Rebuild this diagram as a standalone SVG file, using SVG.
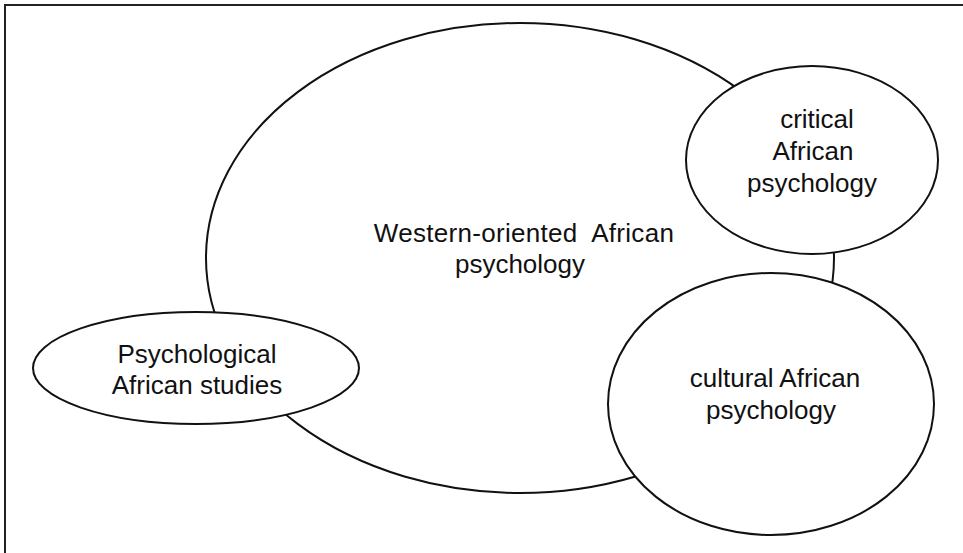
<svg xmlns="http://www.w3.org/2000/svg" width="963" height="553" viewBox="0 0 963 553">
<style>
.shape{fill:#fff;stroke:#111;stroke-width:2}
.lbl{font-family:"Liberation Sans",Arial,sans-serif;font-size:26px;fill:#111;text-anchor:middle;white-space:pre}
.frame{stroke:#222;stroke-width:2;fill:none}
</style>
<rect width="963" height="553" fill="#fff"/>
<g id="frame">
<path class="frame" d="M5,553 V5 H963"/>
</g>
<g id="connectors"></g>
<g id="western">
<ellipse class="shape" cx="520" cy="258" rx="314" ry="235"/>
<text class="lbl" x="524" y="242" xml:space="preserve" letter-spacing="0.3">Western-oriented  African</text>
<text class="lbl" x="520" y="273">psychology</text>
</g>
<g id="psychological">
<ellipse class="shape" cx="196" cy="368" rx="163" ry="56"/>
<text class="lbl" x="197" y="363">Psychological</text>
<text class="lbl" x="197" y="394">African studies</text>
</g>
<g id="critical">
<ellipse class="shape" cx="812" cy="160" rx="126" ry="94"/>
<text class="lbl" x="817" y="128">critical</text>
<text class="lbl" x="813" y="160">African</text>
<text class="lbl" x="812" y="192">psychology</text>
</g>
<g id="cultural">
<ellipse class="shape" cx="771" cy="404" rx="163" ry="131"/>
<text class="lbl" x="775" y="387">cultural African</text>
<text class="lbl" x="771" y="419">psychology</text>
</g>
</svg>
